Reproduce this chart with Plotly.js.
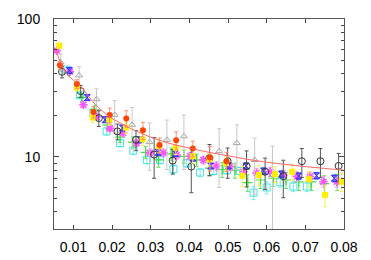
<!DOCTYPE html>
<html><head><meta charset="utf-8">
<script src="https://cdn.plot.ly/plotly-3.0.1.min.js"></script>
<style>html,body{margin:0;padding:0;background:#fff}#plot{width:371px;height:260px}</style>
</head><body><div id="plot"></div>
<script>
// Tick labels
const xTicks = [0.01, 0.02, 0.03, 0.04, 0.05, 0.06, 0.07, 0.08];
const xTickText = ['0.01', '0.02', '0.03', '0.04', '0.05', '0.06', '0.07', '0.08'];
const yTicks = [10, 100];
const yTickText = ['10', '100'];
const yMinor = [4, 5, 6, 7, 8, 9, 20, 30, 40, 50, 60, 70, 80, 90];

// Series: red filled circles
const redX = [0.00655, 0.0109, 0.0152, 0.0194, 0.0237, 0.0280, 0.0323, 0.0366, 0.0409, 0.0453, 0.0496];
const redY = [46.2, 33.8, 21.2, 20.1, 19.0, 15.6, 12.2, 13.2, 11.5, 9.9, 9.3];
const redE = [3, 2.5, 2, 2.5, 2.6, 2.2, 1.5, 2, 1.5, 2, 1.5];

// yellow filled squares
const yelX = [0.00638, 0.0109, 0.0150, 0.0193, 0.0236, 0.0279, 0.0322, 0.0365, 0.0409, 0.0452, 0.0495, 0.0537, 0.0580, 0.0622, 0.0666, 0.0709, 0.0751, 0.0794];
const yelY = [64, 32, 19.3, 18.5, 16.3, 13.4, 11.9, 11.6, 10.1, 9.6, 9.0, 7.3, 7.4, 7.5, 7.8, 6.9, 5.3, 6.6];
const yelE = [3, 2, 1.5, 1.5, 1.5, 1.3, 1.2, 1.2, 1.1, 1, 1, 1.2, 1.2, 1, 1, 0.9, 0.95, 1];

// black open circles
const blkX = [0.00707, 0.0119, 0.0166, 0.0214, 0.0262, 0.0309, 0.0357, 0.0405, 0.0452, 0.0499, 0.0548, 0.0596, 0.0643, 0.0691, 0.0739, 0.0786];
const blkY = [41.4, 30, 19.1, 15.3, 13.3, 10.4, 9.4, 8.5, 9.8, 9.3, 8.55, 7.8, 7.26, 9.3, 9.3, 8.6];
const blkE = [4, 3, 2.5, 2, 2.2, 3.4, 1.9, 3, 2.5, 2.3, 2.5, 2, 2.2, 2.2, 2.2, 2];

// gray open triangles
const gryX = [0.00673, 0.0115, 0.0160, 0.0207, 0.0252, 0.0297, 0.0342, 0.0386, 0.0477, 0.0523, 0.0569, 0.0615];
const gryY = [48.5, 39, 26.2, 20.2, 17.1, 12.8, 13.3, 14.1, 11.0, 12.6, 9.5, 7.4];
const gryE = [7, 6, 5, 5.4, 5.7, 4.8, 5.2, 6, 5, 4.5, 4.2, 4.6];

// blue hourglass
const bluX = [0.00896, 0.0136, 0.0182, 0.0227, 0.0273, 0.0319, 0.0364, 0.0410, 0.0455, 0.0501, 0.0547, 0.0592, 0.0638, 0.0683, 0.0729, 0.0775];
const bluY = [42.4, 26.9, 18.6, 16.2, 13.3, 10.8, 10.6, 9.8, 8.6, 8.6, 8.6, 7.9, 7.5, 7.26, 7.3, 7.0];
const bluE = [1.5, 1, 0.8, 0.7, 0.6, 0.5, 0.5, 0.5, 0.4, 0.4, 0.4, 0.4, 0.4, 0.4, 0.4, 0.4];

// magenta asterisks
const magX = [0.0057, 0.0091, 0.0126, 0.0160, 0.0195, 0.0229, 0.0264, 0.0298, 0.0333, 0.0367, 0.0402, 0.0436, 0.0470, 0.0505, 0.0540, 0.0574, 0.0609, 0.0643, 0.0678, 0.0712, 0.0747, 0.0781];
const magY = [59, 41.5, 23.9, 19.5, 16.1, 14.9, 12.6, 10.7, 10.7, 10.3, 10.1, 9.5, 8.6, 8.5, 7.8, 7.66, 7.8, 7.4, 7.2, 7.2, 6.6, 6.6];
const magE = [1.5, 1.2, 1, 0.9, 0.8, 0.8, 0.7, 0.7, 0.7, 0.7, 0.7, 0.6, 0.6, 0.6, 0.6, 0.6, 0.6, 0.6, 0.6, 0.6, 0.6, 0.6];

// green plus
const grnX = [0.0089, 0.0122, 0.0155, 0.0188, 0.0221, 0.0254, 0.0287, 0.0320, 0.0353, 0.0386, 0.0419, 0.0452, 0.0485, 0.0518, 0.0551, 0.0584, 0.0617, 0.0650, 0.0683, 0.0716, 0.0749, 0.0782];
const grnY = [41, 27, 22, 17, 13.9, 12.8, 10.8, 9.5, 10.5, 10.1, 9.5, 8.3, 8.1, 8.0, 6.5, 6.8, 7.0, 6.8, 6.6, 6.6, 6.4, 6.6];
const grnE = [2, 1.6, 1.4, 1.3, 1.2, 1.2, 1.1, 1.1, 1.1, 1.1, 1, 1, 1, 1, 0.9, 0.9, 0.9, 0.9, 0.9, 0.9, 0.9, 0.9];

// cyan open squares
const cynX = [0.0083, 0.0117, 0.0152, 0.0186, 0.0221, 0.0255, 0.0290, 0.0324, 0.0359, 0.0393, 0.0428, 0.0462, 0.0497, 0.0531, 0.0566, 0.0600, 0.0635, 0.0669, 0.0704];
const cynY = [43, 28, 21, 15.3, 12.6, 11.1, 9.5, 9.5, 8.15, 9.0, 7.7, 7.9, 8.0, 7.9, 5.5, 6.0, 6.55, 6.1, 6.1];
const cynE = [1.5, 1.2, 1, 0.9, 0.8, 0.7, 0.6, 0.6, 0.6, 0.6, 0.5, 0.5, 0.5, 0.5, 0.6, 0.6, 0.5, 0.5, 0.5];

// fit curve
const fitX = [0.0053, 0.0065, 0.008, 0.010, 0.0125, 0.015, 0.0175, 0.020, 0.0225, 0.025, 0.030, 0.035, 0.040, 0.045, 0.050, 0.055, 0.060, 0.065, 0.070, 0.075, 0.080];
const fitY = [61, 50, 41, 36, 31, 25.2, 21.5, 19.0, 17.4, 16.0, 13.9, 12.5, 11.6, 10.8, 10.2, 9.6, 9.15, 8.8, 8.5, 8.25, 8.0];

function pts(x, y, e, color, ecolor, symbol, size, lw, fill) {
  return {
    x: x, y: y, type: 'scatter', mode: 'markers', cliponaxis: true,
    error_y: {type: 'data', array: e, visible: true, color: ecolor, thickness: 1, width: 2},
    marker: {symbol: symbol, size: size, color: fill || color, line: {color: color, width: lw}},
    showlegend: false, hoverinfo: 'skip'
  };
}

const data = [
  pts(cynX, cynY, cynE, '#44e4e4', '#77eeee', 'square-open', 7, 1),
  pts(grnX, grnY, grnE, '#44dd44', '#66e066', 'cross-thin-open', 7, 1.2),
  pts(magX, magY, magE, '#ff55ff', '#ff99ff', 'asterisk-open', 7, 1.6),
  pts(bluX, bluY, bluE, '#2a2aff', '#6666ff', 'hourglass', 6, 1, '#7a6aff'),
  pts(gryX, gryY, gryE, '#a8a8a8', '#c8c8c8', 'triangle-up-open', 6, 1),
  pts(blkX, blkY, blkE, '#333333', '#555555', 'circle-open', 7, 1),
  pts(yelX, yelY, yelE, '#ffee00', '#f5ee55', 'square', 6, 0),
  pts(redX, redY, redE, '#ff4400', '#ff9070', 'circle', 6, 0),
  {x: fitX, y: fitY, type: 'scatter', mode: 'lines', line: {color: '#ff6666', width: 1, shape: 'spline'}, showlegend: false, hoverinfo: 'skip'},
  // invisible trace that activates the overlay axes used for the inside tick marks
  {x: [fitX[10]], y: [fitY[10]], xaxis: 'x2', yaxis: 'y2', type: 'scatter', mode: 'markers', marker: {opacity: 0}, showlegend: false, hoverinfo: 'skip'}
];

const axisFont = {family: 'Liberation Sans, Arial, sans-serif', size: 14, color: '#000'};
const xRange = [0.005, 0.08];
const yRange = [Math.log10(3), 2];
const layout = {
  width: 371, height: 260,
  margin: {l: 54, r: 27, t: 19, b: 31, pad: 0},
  paper_bgcolor: '#fff', plot_bgcolor: '#fff',
  showlegend: false,
  xaxis: {
    range: xRange, tickmode: 'array', tickvals: xTicks, ticktext: xTickText,
    ticks: 'outside', ticklen: 5, tickcolor: 'rgba(0,0,0,0)',
    showline: true, linecolor: '#555', linewidth: 1, mirror: true,
    showgrid: false, zeroline: false, tickfont: axisFont
  },
  yaxis: {
    type: 'log', range: yRange,
    tickmode: 'array', tickvals: yTicks, ticktext: yTickText,
    ticks: 'outside', ticklen: 10, tickcolor: 'rgba(0,0,0,0)',
    showline: true, linecolor: '#555', linewidth: 1, mirror: true,
    showgrid: false, zeroline: false, tickfont: axisFont
  },
  xaxis2: {
    overlaying: 'x', anchor: 'y2', range: xRange, tickmode: 'array', tickvals: xTicks,
    showticklabels: false, ticks: 'inside', ticklen: 4, tickcolor: '#444', tickwidth: 1,
    mirror: 'ticks', showline: false, showgrid: false, zeroline: false
  },
  yaxis2: {
    overlaying: 'y', anchor: 'x2', type: 'log', range: yRange, tickmode: 'array', tickvals: yTicks,
    showticklabels: false, ticks: 'inside', ticklen: 5, tickcolor: '#444', tickwidth: 1,
    minor: {tickmode: 'array', tickvals: yMinor, ticks: 'inside', ticklen: 3, tickcolor: '#444', showgrid: false},
    mirror: 'ticks', showline: false, showgrid: false, zeroline: false
  }
};
Plotly.newPlot('plot', data, layout, {staticPlot: true, displayModeBar: false});
</script></body></html>
